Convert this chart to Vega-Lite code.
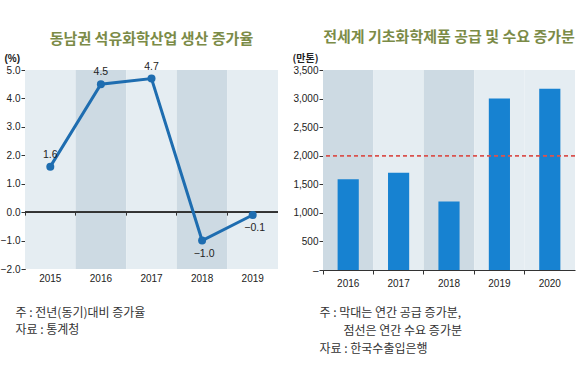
{
  "$schema": "https://vega.github.io/schema/vega-lite/v6.json",
  "background": "white",
  "padding": {"left": 0, "top": 30, "right": 0, "bottom": 0},
  "spacing": 13,
  "config": {
    "view": {"stroke": null},
    "font": "Noto Sans CJK KR",
    "axis": {
      "labelFont": "Liberation Sans",
      "labelFontSize": 10,
      "labelColor": "#222",
      "domainColor": "#333",
      "tickColor": "#333",
      "grid": false,
      "labelOverlap": false
    },
    "title": {"font": "Noto Sans CJK KR", "fontSize": 15, "fontWeight": "bold", "color": "#7b8b47", "anchor": "middle"}
  },
  "hconcat": [
    {
      "width": 253,
      "height": 199,
      "title": {"text": "동남권 석유화학산업 생산 증가율", "offset": 6},
      "data": {"values": [
        {"year": "2015", "rate": 1.6},
        {"year": "2016", "rate": 4.5},
        {"year": "2017", "rate": 4.7},
        {"year": "2018", "rate": -1.0},
        {"year": "2019", "rate": -0.1}
      ]},
      "resolve": {"axis": {"x": "independent", "y": "independent"}},
      "layer": [
        {
          "mark": {"type": "rect"},
          "encoding": {
            "x": {"field": "year", "type": "ordinal", "scale": {"paddingInner": 0, "paddingOuter": 0},
              "axis": {"orient": "bottom", "labelAngle": 0, "domain": false, "ticks": false, "labelPadding": 4,
                "title": ["주 : 전년(동기)대비 증가율", "자료 : 통계청"],
                "titleFont": "Noto Sans CJK KR", "titleFontSize": 12, "titleFontWeight": "normal", "titleColor": "#333",
                "titleAnchor": "start", "titleAlign": "left", "titleBaseline": "top", "titleX": -10, "titleY": 38, "titleLineHeight": 17}},
            "color": {"field": "year", "type": "ordinal", "legend": null,
              "scale": {"domain": ["2015", "2016", "2017", "2018", "2019"], "range": ["#e5edf2", "#cddae3", "#e5edf2", "#cddae3", "#e5edf2"]}}
          }
        },
        {
          "mark": {"type": "rule", "color": "#333", "strokeWidth": 1.2},
          "encoding": {"y": {"datum": 0, "type": "quantitative", "axis": null}}
        },
        {
          "mark": {"type": "line", "color": "#1e6db0", "strokeWidth": 3, "point": {"filled": true, "size": 64, "color": "#1e6db0"}},
          "encoding": {
            "x": {"field": "year", "type": "ordinal",
              "axis": {"orient": "bottom", "offset": -56.9, "labels": false, "domain": false, "ticks": true, "tickSize": 3, "bandPosition": 0, "title": null, "zindex": 2}},
            "y": {"field": "rate", "type": "quantitative", "scale": {"domain": [-2, 5], "nice": false, "zero": false},
              "axis": {"orient": "left", "values": [-2, -1, 0, 1, 2, 3, 4, 5], "format": ".1f", "tickSize": 4, "labelPadding": 1, "labelOverlap": false, "labelFlush": false,
                "title": "(%)", "titleAngle": 0, "titleAlign": "left", "titleBaseline": "bottom", "titleX": -21, "titleY": -7,
                "titleFont": "Liberation Sans", "titleFontSize": 10, "titleFontWeight": "bold", "titleColor": "#222"}}
          }
        },
        {
          "transform": [{"filter": "datum.rate >= 0"}],
          "mark": {"type": "text", "dy": -12, "font": "Liberation Sans", "fontSize": 10.5, "color": "#222"},
          "encoding": {
            "x": {"field": "year", "type": "ordinal", "axis": null},
            "y": {"field": "rate", "type": "quantitative", "axis": null},
            "text": {"field": "rate", "type": "quantitative", "format": ".1f"}
          }
        },
        {
          "transform": [{"filter": "datum.rate < 0"}],
          "mark": {"type": "text", "dy": 13, "dx": 2, "font": "Liberation Sans", "fontSize": 10.5, "color": "#222"},
          "encoding": {
            "x": {"field": "year", "type": "ordinal", "axis": null},
            "y": {"field": "rate", "type": "quantitative", "axis": null},
            "text": {"field": "rate", "type": "quantitative", "format": ".1f"}
          }
        }
      ]
    },
    {
      "width": 252,
      "height": 200,
      "title": {"text": "전세계 기초화학제품 공급 및 수요 증가분", "offset": 8},
      "data": {"values": [
        {"year": "2016", "supply": 1590},
        {"year": "2017", "supply": 1700},
        {"year": "2018", "supply": 1200},
        {"year": "2019", "supply": 3000},
        {"year": "2020", "supply": 3170}
      ]},
      "resolve": {"axis": {"y": "independent"}},
      "layer": [
        {
          "mark": {"type": "rect"},
          "encoding": {
            "x": {"field": "year", "type": "ordinal", "scale": {"paddingInner": 0, "paddingOuter": 0},
              "axis": {"orient": "bottom", "labelAngle": 0, "domain": true, "ticks": true, "bandPosition": 0, "tickSize": 4, "labelPadding": 4,
                "title": ["주 : 막대는 연간 공급 증가분,", "\u200b\u3000\u3000점선은 연간 수요 증가분", "자료 : 한국수출입은행"],
                "titleFont": "Noto Sans CJK KR", "titleFontSize": 12, "titleFontWeight": "normal", "titleColor": "#333",
                "titleAnchor": "start", "titleAlign": "left", "titleBaseline": "top", "titleX": -4, "titleY": 37, "titleLineHeight": 18}},
            "color": {"field": "year", "type": "ordinal", "legend": null,
              "scale": {"domain": ["2016", "2017", "2018", "2019", "2020"], "range": ["#e5edf2", "#cddae3", "#e5edf2", "#cddae3", "#e5edf2"]}}
          }
        },
        {
          "mark": {"type": "bar", "color": "#1782d1", "width": {"band": 0.42}},
          "encoding": {
            "x": {"field": "year", "type": "ordinal"},
            "y": {"field": "supply", "type": "quantitative", "scale": {"domain": [0, 3500], "nice": false},
              "axis": {"orient": "left", "values": [0, 500, 1000, 1500, 2000, 2500, 3000, 3500], "tickSize": 4, "labelPadding": 1, "labelOverlap": false, "labelFlush": false,
                "labelExpr": "datum.value == 0 ? '–' : format(datum.value, ',')",
                "title": "(만톤)", "titleAngle": 0, "titleAlign": "left", "titleBaseline": "bottom", "titleX": -31, "titleY": -7,
                "titleFont": "Noto Sans CJK KR", "titleFontSize": 10, "titleFontWeight": "bold", "titleColor": "#222"}}
          }
        },
        {
          "mark": {"type": "rule", "color": "#d9534f", "strokeWidth": 1.2, "strokeDash": [4, 3]},
          "encoding": {"y": {"datum": 2000, "type": "quantitative", "axis": null}}
        }
      ]
    }
  ]
}
